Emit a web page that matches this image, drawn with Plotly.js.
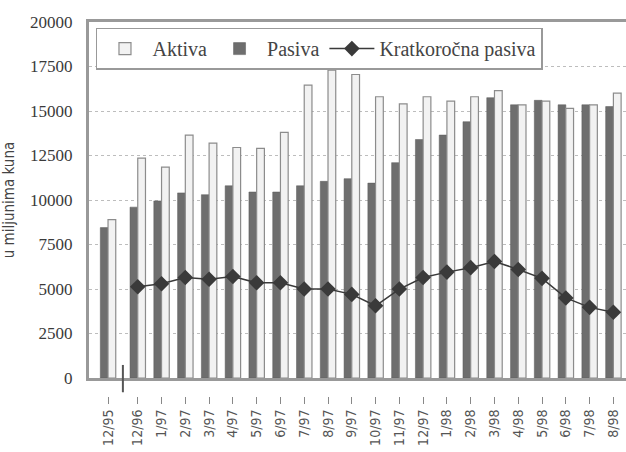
<!DOCTYPE html>
<html>
<head>
<meta charset="utf-8">
<script src="https://cdn.plot.ly/plotly-3.0.1.min.js"></script>
<style>html,body{margin:0;padding:0;background:#fff;}#chart{width:626px;height:452px;}</style>
</head>
<body>
<div id="chart"></div>
<script>
const categories = ['12/95','12/96','1/97','2/97','3/97','4/97','5/97','6/97','7/97','8/97','9/97','10/97','11/97','12/97','1/98','2/98','3/98','4/98','5/98','6/98','7/98','8/98'];
const aktiva = [8900,12350,11850,13650,13200,12950,12900,13800,16450,17300,17050,15800,15400,15800,15550,15800,16150,15350,15550,15150,15350,16000];
const pasiva = [8450,9600,9950,10400,10300,10800,10450,10450,10800,11050,11200,10950,12100,13400,13650,14400,15750,15350,15600,15350,15350,15250];
const kratkorocna = [null,5130,5300,5650,5550,5700,5350,5350,5000,5000,4700,4060,5000,5650,5950,6200,6550,6100,5600,4500,3970,3700];
const yTicks = [0,2500,5000,7500,10000,12500,15000,17500,20000];

// first category (12/95) sits before an axis break, slightly farther from the rest
const xs = categories.map((c, i) => i === 0 ? -1.25 : i - 1);
const breakX = (xs[0] + xs[1]) / 2;

const serif = 'Liberation Serif, DejaVu Serif, serif';
const sans = 'DejaVu Sans Condensed, DejaVu Sans, sans-serif';

const traces = [
  {type:'bar', name:'Pasiva', x:xs, y:pasiva, legendrank:2,
   marker:{color:'#6e6e6e', line:{color:'#5a5a5a', width:0.5}}},
  {type:'bar', name:'Aktiva', x:xs, y:aktiva, legendrank:1,
   marker:{color:'#f2f2f2', line:{color:'#8c8c8c', width:1.2}}},
  {type:'scatter', mode:'lines+markers', name:'Kratkoročna pasiva', x:xs, y:kratkorocna, legendrank:3,
   line:{color:'#3a3a3a', width:1.5},
   marker:{symbol:'diamond', size:12, color:'#3a3a3a'}},
  // carrier for the lower category-label axis (draws nothing)
  {type:'scatter', mode:'markers', x:xs, y:categories.map(() => null), xaxis:'x2', yaxis:'y',
   showlegend:false, hoverinfo:'skip'}
];

const layout = {
  width:626, height:452,
  margin:{l:89, r:0, t:22, b:56},
  paper_bgcolor:'#fff', plot_bgcolor:'#fff',
  barmode:'group', bargap:0.35, bargroupgap:0,
  showlegend:true,
  legend:{orientation:'h', x:0.013, y:0.985, xanchor:'left', yanchor:'top',
          itemwidth:45,
          bgcolor:'#fff', bordercolor:'#999', borderwidth:1.5,
          font:{family:serif, size:20, color:'#444'}},
  xaxis:{range:[-2.05, 20.53], showticklabels:false, ticks:'', showgrid:false, zeroline:false,
         showline:true, linecolor:'#999', linewidth:3, mirror:true, fixedrange:true},
  xaxis2:{overlaying:'x', anchor:'free', position:0, range:[-2.05, 20.53],
          tickmode:'array', tickvals:xs, ticktext:categories, tickangle:-90,
          ticks:'outside', ticklen:7, tickcolor:'#888', tickwidth:1,
          showline:false, showgrid:false, zeroline:false, automargin:false,
          tickfont:{family:sans, size:14, color:'#555'}},
  yaxis:{domain:[0.048, 1], range:[0, 20000], tickmode:'array', tickvals:yTicks,
         ticktext:yTicks.map(String), showline:true, linecolor:'#999', linewidth:3,
         showgrid:true, gridcolor:'#bdbdbd', griddash:'dot', gridwidth:1, zeroline:false,
         ticks:'', ticklabelstandoff:10, automargin:false,
         tickfont:{family:serif, size:17, color:'#3a3a3a'},
         title:{text:'u miljunima kuna', font:{family:sans, size:15, color:'#444'}, standoff:14}},
  shapes:[
    {type:'line', xref:'x', yref:'paper', x0:breakX, x1:breakX, y0:0.083, y1:0.01,
     line:{color:'#555', width:2}}
  ]
};

Plotly.newPlot('chart', traces, layout, {staticPlot:true});
</script>
</body>
</html>
